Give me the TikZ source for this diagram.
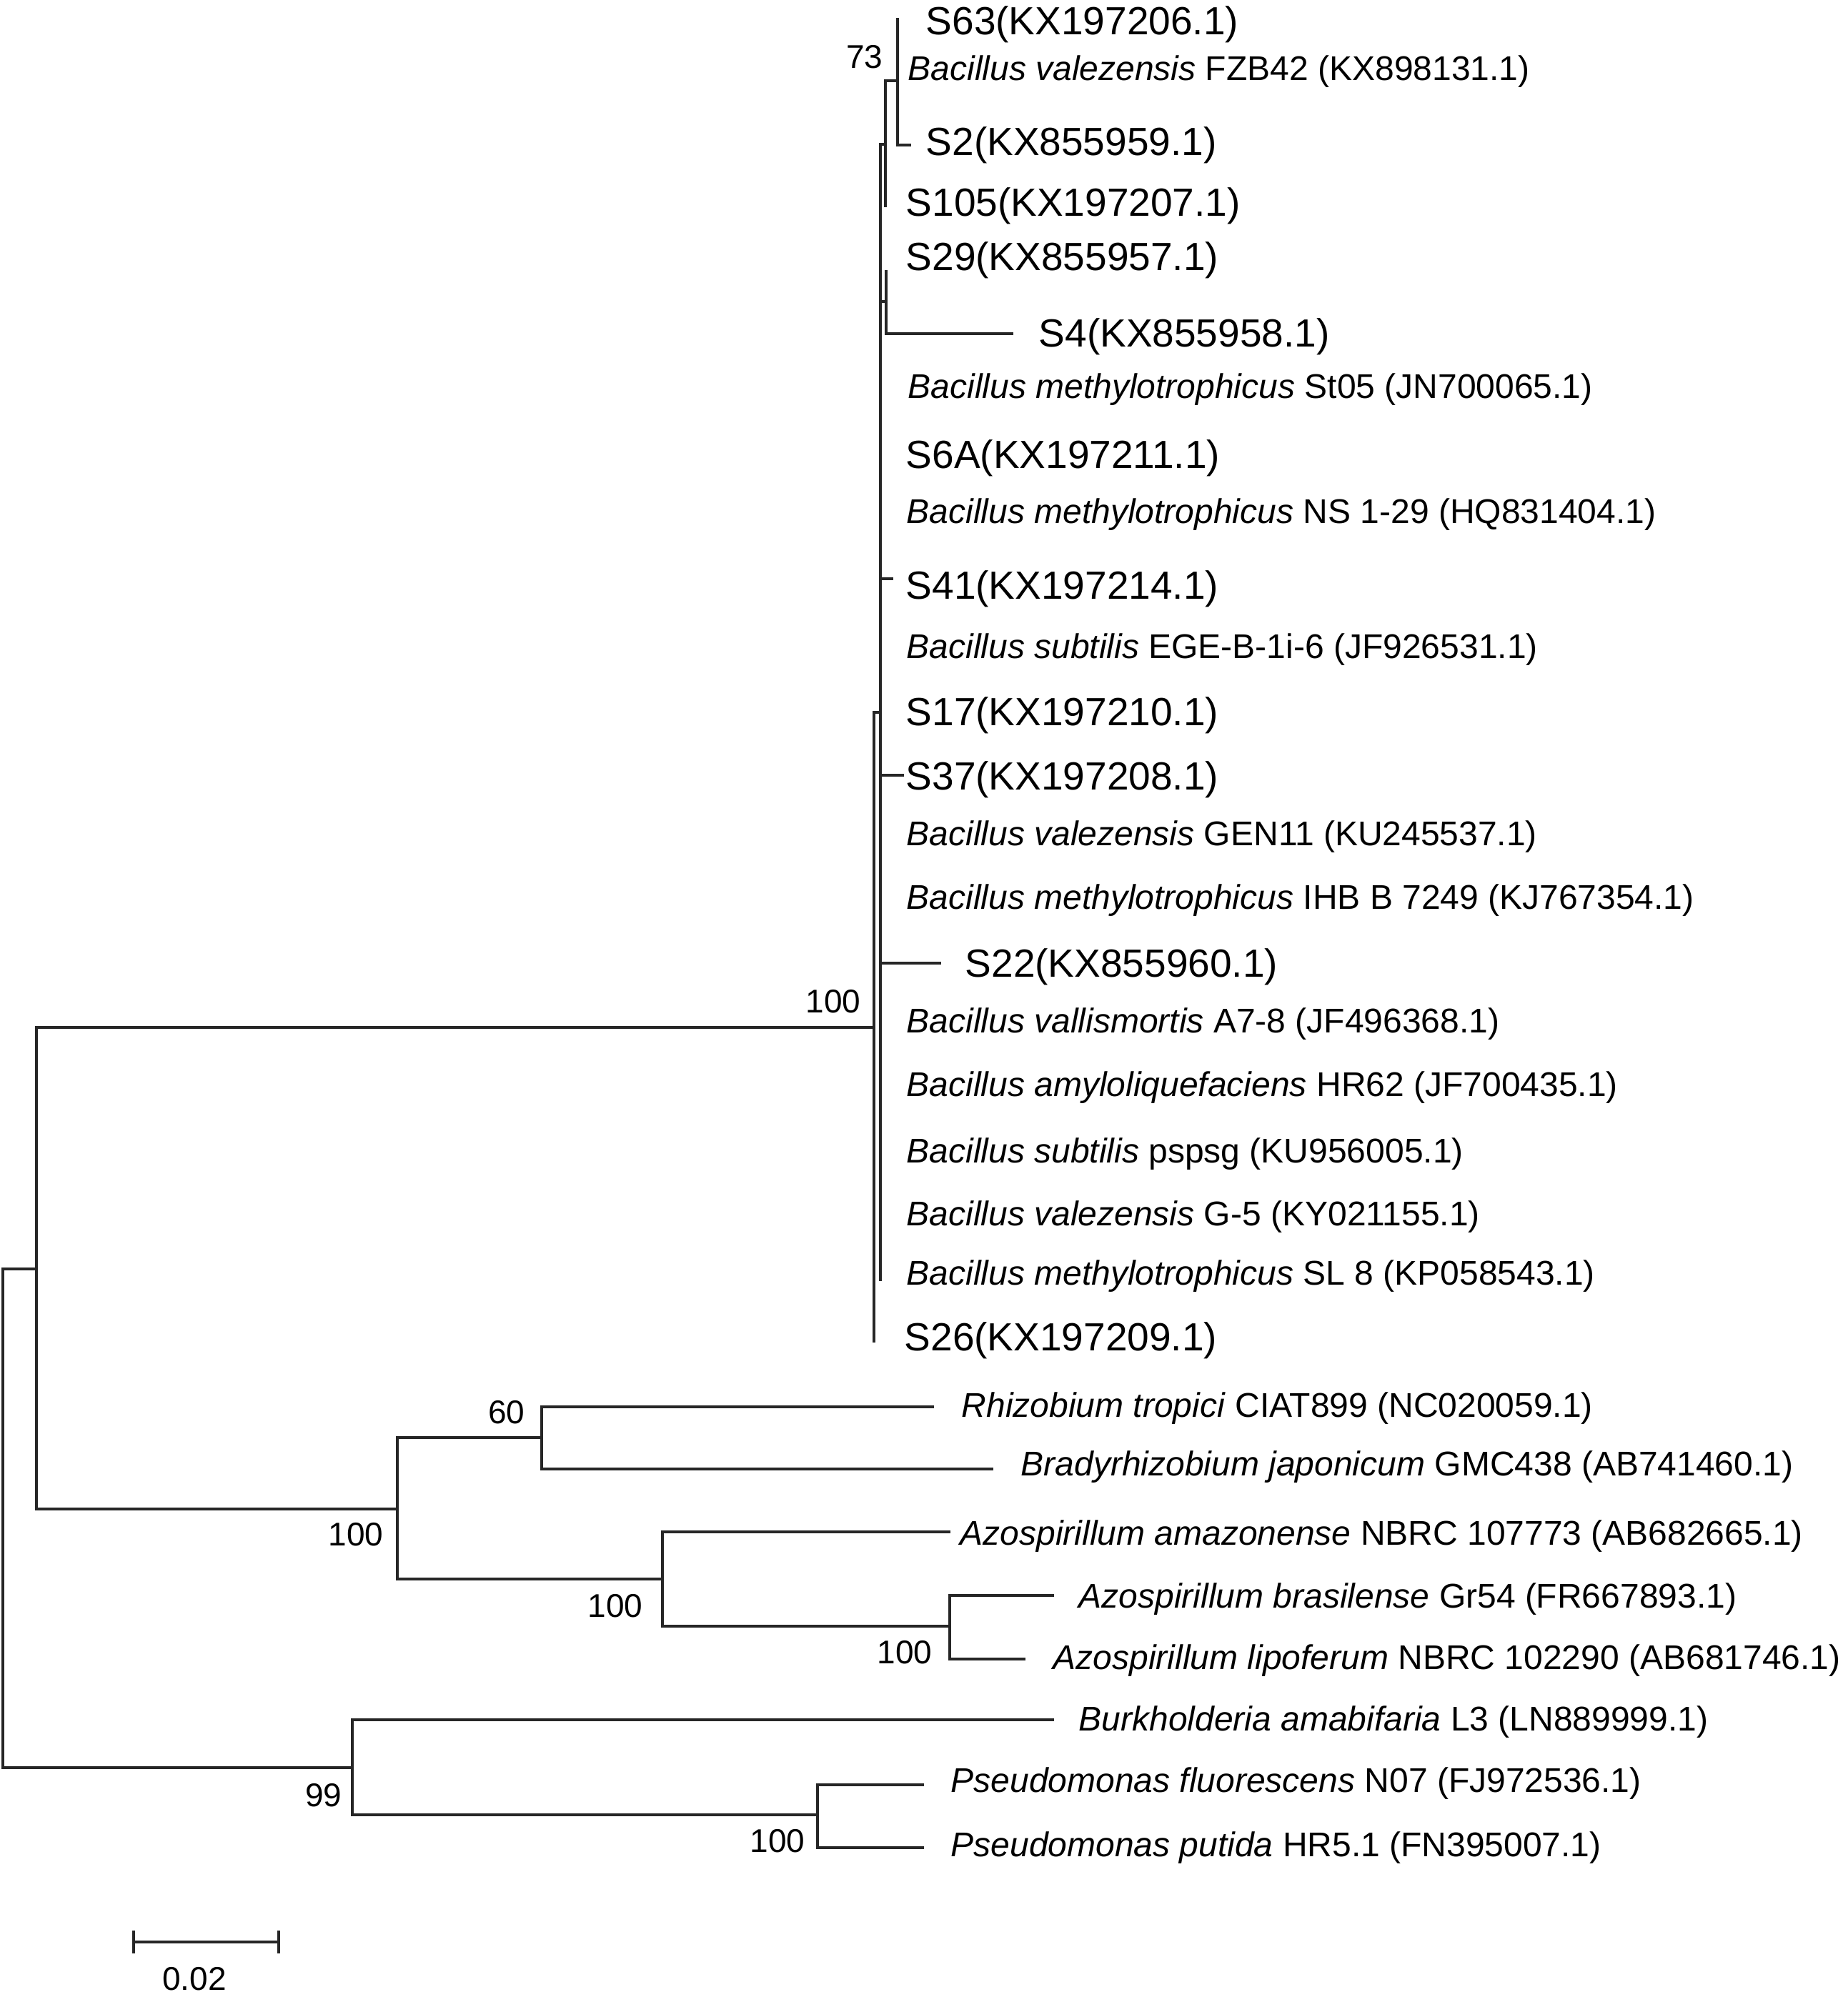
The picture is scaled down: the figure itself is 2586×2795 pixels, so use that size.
\documentclass[tikz,border=0pt]{standalone}
\usepackage{fontspec}
\setmainfont{Liberation Sans}
\begin{document}
\begin{tikzpicture}[x=0.25pt,y=-0.25pt,
  br/.style={line width=0.9pt, line join=miter, black!85},
  sp/.style={anchor=base west, inner sep=0pt, font=\fontsize{12pt}{14pt}\selectfont},
  st/.style={anchor=base west, inner sep=0pt, font=\fontsize{13.75pt}{16pt}\selectfont},
  bs/.style={anchor=base east, inner sep=0pt, font=\fontsize{11.5pt}{13pt}\selectfont}]
\useasboundingbox (0,0) rectangle (2586,2795);

% ---------- internal nodes ----------
\coordinate (root) at (4,2125);
\coordinate (nU) at (51,1776);
\coordinate (nP) at (493,2474);
\coordinate (nB) at (1223,1438);
\coordinate (nA) at (1232,997);
\coordinate (nC) at (1239,202);
\coordinate (n73) at (1256,113);
\coordinate (nD) at (1240,422);
\coordinate (nR) at (556,2112);
\coordinate (n60) at (758,2012);
\coordinate (nZ) at (927,2210);
\coordinate (nZ2) at (1329,2276);
\coordinate (nPs) at (1144,2540);

% ---------- tips ----------
\coordinate (tS63) at (1256,25);
\coordinate (tS2) at (1275,203);
\coordinate (tS105) at (1239,290);
\coordinate (tS29) at (1240,378);
\coordinate (tS4) at (1418,467);
\coordinate (tS41) at (1250,810);
\coordinate (tS37) at (1265,1085);
\coordinate (tS22) at (1317,1348);
\coordinate (tSL8) at (1232,1793);
\coordinate (tS26) at (1223,1879);
\coordinate (tRh) at (1307,1969);
\coordinate (tBr) at (1390,2056);
\coordinate (tAm) at (1330,2144);
\coordinate (tAb) at (1475,2233);
\coordinate (tAl) at (1435,2322);
\coordinate (tBu) at (1475,2407);
\coordinate (tPf) at (1293,2498);
\coordinate (tPp) at (1293,2586);

% ---------- branches ----------
\draw[br] (root) |- (nU);
\draw[br] (root) |- (nP);
\draw[br] (nU) |- (nB);
\draw[br] (nU) |- (nR);
\draw[br] (nB) |- (nA);
\draw[br] (nB) |- (tS26);
\draw[br] (nA) |- (nC);
\draw[br] (nA) |- (nD);
\draw[br] (nA) |- (tS41);
\draw[br] (nA) |- (tS37);
\draw[br] (nA) |- (tS22);
\draw[br] (nA) |- (tSL8);
\draw[br] (nC) |- (n73);
\draw[br] (nC) |- (tS105);
\draw[br] (n73) |- (tS63);
\draw[br] (n73) |- (tS2);
\draw[br] (nD) |- (tS29);
\draw[br] (nD) |- (tS4);
\draw[br] (nR) |- (n60);
\draw[br] (nR) |- (nZ);
\draw[br] (n60) |- (tRh);
\draw[br] (n60) |- (tBr);
\draw[br] (nZ) |- (tAm);
\draw[br] (nZ) |- (nZ2);
\draw[br] (nZ2) |- (tAb);
\draw[br] (nZ2) |- (tAl);
\draw[br] (nP) |- (tBu);
\draw[br] (nP) |- (nPs);
\draw[br] (nPs) |- (tPf);
\draw[br] (nPs) |- (tPp);

% ---------- leaf labels ----------
\node[st] (L1) at (1295,48) {S63(KX197206.1)};
\node[sp] (L2) at (1270,112) {\textit{Bacillus valezensis} FZB42 (KX898131.1)};
\node[st] (L3) at (1295,217) {S2(KX855959.1)};
\node[st] (L4) at (1267,302) {S105(KX197207.1)};
\node[st] (L5) at (1267,378) {S29(KX855957.1)};
\node[st] (L6) at (1453,485) {S4(KX855958.1)};
\node[sp] (L7) at (1270,557) {\textit{Bacillus methylotrophicus} St05 (JN700065.1)};
\node[st] (L8) at (1267,655) {S6A(KX197211.1)};
\node[sp] (L9) at (1268,732) {\textit{Bacillus methylotrophicus} NS 1-29 (HQ831404.1)};
\node[st] (L10) at (1267,838) {S41(KX197214.1)};
\node[sp] (L11) at (1268,921) {\textit{Bacillus subtilis} EGE-B-1i-6 (JF926531.1)};
\node[st] (L12) at (1267,1015) {S17(KX197210.1)};
\node[st] (L13) at (1267,1105) {S37(KX197208.1)};
\node[sp] (L14) at (1268,1183) {\textit{Bacillus valezensis} GEN11 (KU245537.1)};
\node[sp] (L15) at (1268,1272) {\textit{Bacillus methylotrophicus} IHB B 7249 (KJ767354.1)};
\node[st] (L16) at (1350,1367) {S22(KX855960.1)};
\node[sp] (L17) at (1268,1445) {\textit{Bacillus vallismortis} A7-8 (JF496368.1)};
\node[sp] (L18) at (1268,1534) {\textit{Bacillus amyloliquefaciens} HR62 (JF700435.1)};
\node[sp] (L19) at (1268,1627) {\textit{Bacillus subtilis} pspsg (KU956005.1)};
\node[sp] (L20) at (1268,1715) {\textit{Bacillus valezensis} G-5 (KY021155.1)};
\node[sp] (L21) at (1268,1798) {\textit{Bacillus methylotrophicus} SL 8 (KP058543.1)};
\node[st] (L22) at (1265,1890) {S26(KX197209.1)};
\node[sp] (L23) at (1345,1983) {\textit{Rhizobium tropici} CIAT899 (NC020059.1)};
\node[sp] (L24) at (1428,2065) {\textit{Bradyrhizobium japonicum} GMC438 (AB741460.1)};
\node[sp] (L25) at (1343,2162) {\textit{Azospirillum amazonense} NBRC 107773 (AB682665.1)};
\node[sp] (L26) at (1509,2250) {\textit{Azospirillum brasilense} Gr54 (FR667893.1)};
\node[sp] (L27) at (1473,2336) {\textit{Azospirillum lipoferum} NBRC 102290 (AB681746.1)};
\node[sp] (L28) at (1509,2422) {\textit{Burkholderia amabifaria} L3 (LN889999.1)};
\node[sp] (L29) at (1330,2508) {\textit{Pseudomonas fluorescens} N07 (FJ972536.1)};
\node[sp] (L30) at (1330,2598) {\textit{Pseudomonas putida} HR5.1 (FN395007.1)};

% ---------- bootstrap values ----------
\node[bs] (b73) at (1236,95) {73};
\node[bs] (bB) at (1205,1417) {100};
\node[bs] (b60) at (735,1992) {60};
\node[bs] (bR) at (537,2163) {100};
\node[bs] (bZ) at (900,2263) {100};
\node[bs] (bZ2) at (1305,2328) {100};
\node[bs] (b99) at (479,2528) {99};
\node[bs] (bPs) at (1127,2592) {100};

% ---------- scale bar ----------
\coordinate (sbL) at (187,2718);
\coordinate (sbR) at (390,2718);
\draw[br] (sbL) -- (sbR);
\draw[br] ([yshift=4pt]sbL) -- ([yshift=-4pt]sbL);
\draw[br] ([yshift=4pt]sbR) -- ([yshift=-4pt]sbR);
\node[bs, anchor=base] (sbT) at (272,2785) {0.02};
\end{tikzpicture}
\end{document}
